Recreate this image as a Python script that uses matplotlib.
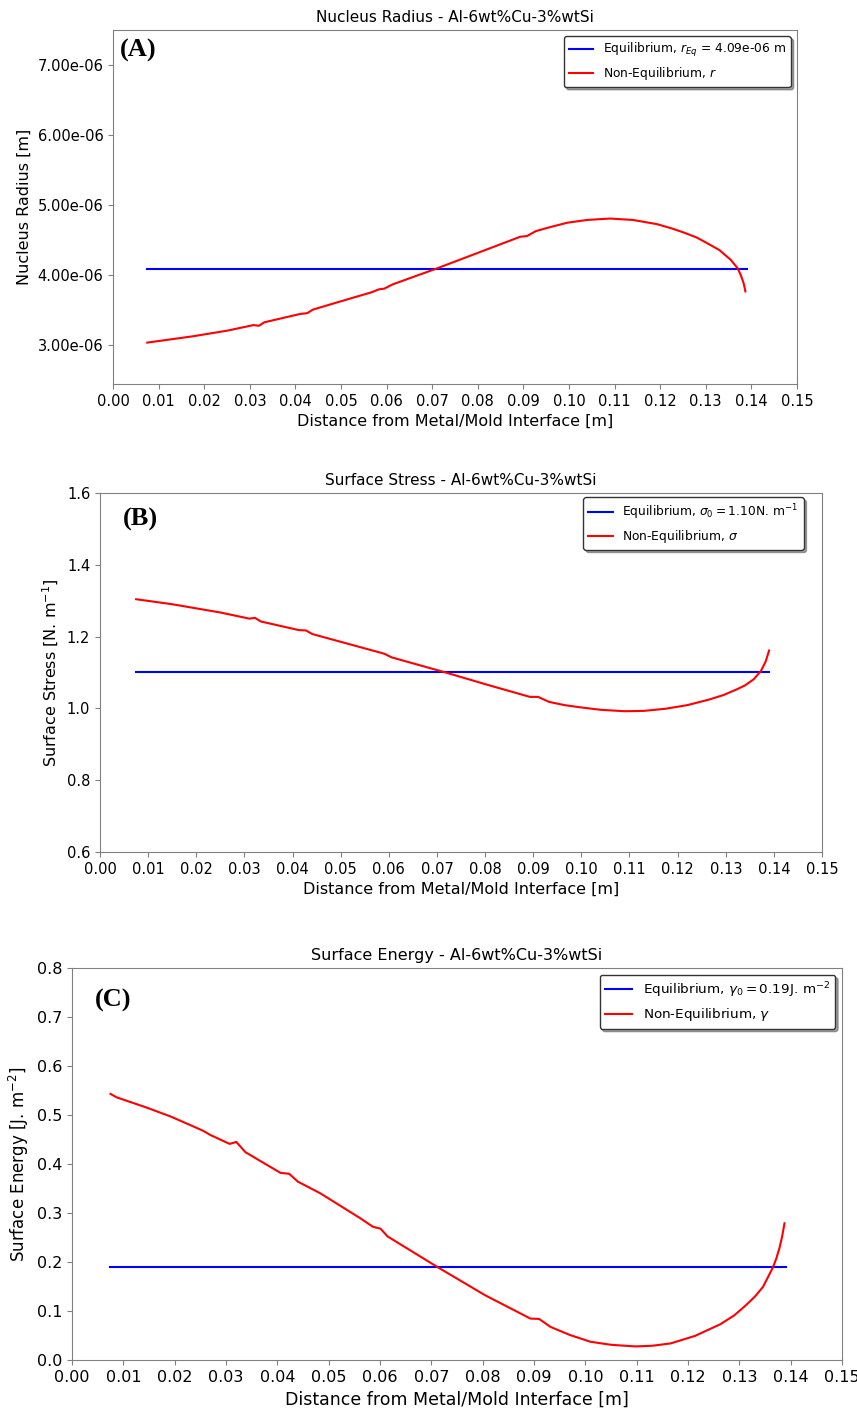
import matplotlib.pyplot as plt
import numpy as np
from matplotlib.ticker import FormatStrFormatter, MultipleLocator

# distance from the metal/mold interface [m] for each curve
x_r = [0.0075, 0.0175, 0.025, 0.0308, 0.032, 0.0332, 0.0411, 0.0426, 0.0438, 0.050,
       0.0568, 0.0583, 0.0595, 0.0613, 0.0711, 0.080, 0.0893, 0.0908, 0.0927, 0.096,
       0.0996, 0.104, 0.109, 0.114, 0.1193, 0.1225, 0.1252, 0.128, 0.130, 0.133,
       0.1355, 0.137, 0.1377, 0.1383, 0.1387]
r_neq = [3.04, 3.13, 3.21, 3.29, 3.28, 3.33, 3.45, 3.46, 3.51, 3.63,
         3.76, 3.80, 3.81, 3.87, 4.10, 4.32, 4.55, 4.56, 4.63, 4.69,
         4.75, 4.79, 4.81, 4.79, 4.73, 4.67, 4.61, 4.54, 4.47, 4.36,
         4.22, 4.10, 4.00, 3.89, 3.77]  # x 1e-6 m

x_s = [0.0075, 0.015, 0.025, 0.031, 0.0322, 0.0334, 0.0413, 0.0428, 0.0441, 0.0572,
       0.0591, 0.0606, 0.0715, 0.0809, 0.0893, 0.091, 0.0933, 0.0965, 0.0997, 0.104,
       0.109, 0.113, 0.1175, 0.122, 0.1264, 0.1295, 0.1323, 0.134, 0.1358, 0.1373,
       0.1383, 0.139]
sigma_neq = [1.304, 1.290, 1.267, 1.250, 1.252, 1.242, 1.218, 1.217, 1.207, 1.159,
             1.152, 1.142, 1.101, 1.064, 1.032, 1.032, 1.018, 1.009, 1.003, 0.996,
             0.992, 0.993, 0.999, 1.009, 1.024, 1.037, 1.053, 1.064, 1.081, 1.104,
             1.131, 1.161]

x_g = [0.0075, 0.0087, 0.0143, 0.0192, 0.024, 0.0255, 0.027, 0.0307, 0.032, 0.0338,
       0.0406, 0.0423, 0.044, 0.0484, 0.0562, 0.0586, 0.0601, 0.0615, 0.0713, 0.0805,
       0.0893, 0.091, 0.0932, 0.097, 0.101, 0.105, 0.1097, 0.113, 0.1166, 0.1214,
       0.1263, 0.129, 0.1312, 0.133, 0.1346, 0.1365, 0.1372, 0.1378, 0.1383, 0.1388]
gamma_neq = [0.543, 0.536, 0.516, 0.497, 0.475, 0.468, 0.459, 0.441, 0.445, 0.424,
             0.382, 0.380, 0.364, 0.340, 0.289, 0.272, 0.268, 0.252, 0.189, 0.132,
             0.0845, 0.0838, 0.0676, 0.051, 0.0372, 0.031, 0.0277, 0.029, 0.0338, 0.0493,
             0.073, 0.091, 0.111, 0.129, 0.149, 0.188, 0.207, 0.228, 0.250, 0.279]

# equilibrium values
x_eq = [0.0075, 0.139]
r_eq = 4.09e-6
sigma0 = 1.10
gamma0 = 0.19

x_label = "Distance from Metal/Mold Interface [m]"

fig = plt.figure(figsize=(8.57, 14.08), dpi=100)


def style(ax, fs):
    for s in ax.spines.values():
        s.set_color("0.5")
    ax.tick_params(colors="0.5", labelcolor="black", labelsize=fs)
    ax.set_xlim(0, 0.15)
    ax.xaxis.set_major_locator(MultipleLocator(0.01))
    ax.xaxis.set_major_formatter(FormatStrFormatter("%.2f"))
    ax.set_xlabel(x_label, fontsize=fs + 1)


def legend(ax, fs, anchor=(1, 1)):
    leg = ax.legend(loc="upper right", bbox_to_anchor=anchor, fontsize=fs,
                    shadow=True, framealpha=1)
    leg.get_frame().set_edgecolor("0.2")


# (A) nucleus radius
ax1 = fig.add_axes([0.1319, 0.7273, 0.798, 0.2514])
ax1.plot(x_eq, [r_eq, r_eq], color="b", lw=1.5,
         label=r"Equilibrium, $r_{Eq}$ = 4.09e-06 m")
ax1.plot(x_r, np.array(r_neq) * 1e-6, color="r", lw=1.5,
         label=r"Non-Equilibrium, $r$")
style(ax1, 10.5)
ax1.set_ylim(2.45e-6, 7.5e-6)
ax1.set_yticks(np.arange(3e-6, 7.5e-6, 1e-6))
ax1.yaxis.set_major_formatter(FormatStrFormatter("%.2e"))
ax1.set_ylabel("Nucleus Radius [m]", fontsize=11.5)
ax1.set_title("Nucleus Radius - Al-6wt%Cu-3%wtSi", fontsize=11)
legend(ax1, 8.8)
ax1.text(0.01, 0.943, "(A)", transform=ax1.transAxes, va="center",
         family="Liberation Serif", weight="bold", fontsize=19)

# (B) surface stress
ax2 = fig.add_axes([0.1167, 0.3949, 0.8425, 0.255])
ax2.plot(x_eq, [sigma0, sigma0], color="b", lw=1.5,
         label=r"Equilibrium, $\sigma_0 = 1.10\mathrm{N.\,m}^{-1}$")
ax2.plot(x_s, sigma_neq, color="r", lw=1.5,
         label=r"Non-Equilibrium, $\sigma$")
style(ax2, 10.5)
ax2.set_ylim(0.6, 1.6)
ax2.yaxis.set_major_locator(MultipleLocator(0.2))
ax2.yaxis.set_major_formatter(FormatStrFormatter("%.1f"))
ax2.set_ylabel(r"Surface Stress [N. m$^{-1}$]", fontsize=11.5)
ax2.set_title("Surface Stress - Al-6wt%Cu-3%wtSi", fontsize=11)
legend(ax2, 8.8, anchor=(0.983, 1.005))
ax2.text(0.032, 0.925, "(B)", transform=ax2.transAxes, va="center",
         family="Liberation Serif", weight="bold", fontsize=19)

# (C) surface energy
ax3 = fig.add_axes([0.084, 0.0341, 0.8985, 0.2784])
ax3.plot(x_eq, [gamma0, gamma0], color="b", lw=1.5,
         label=r"Equilibrium, $\gamma_0 = 0.19\mathrm{J.\,m}^{-2}$")
ax3.plot(x_g, gamma_neq, color="r", lw=1.5,
         label=r"Non-Equilibrium, $\gamma$")
style(ax3, 11.5)
ax3.set_ylim(0, 0.8)
ax3.yaxis.set_major_locator(MultipleLocator(0.1))
ax3.yaxis.set_major_formatter(FormatStrFormatter("%.1f"))
ax3.set_ylabel(r"Surface Energy [J. m$^{-2}$]", fontsize=12)
ax3.set_title("Surface Energy - Al-6wt%Cu-3%wtSi", fontsize=11.5)
legend(ax3, 9.7)
ax3.text(0.03, 0.918, "(C)", transform=ax3.transAxes, va="center",
         family="Liberation Serif", weight="bold", fontsize=19)

fig.savefig("out.png", dpi=100)
